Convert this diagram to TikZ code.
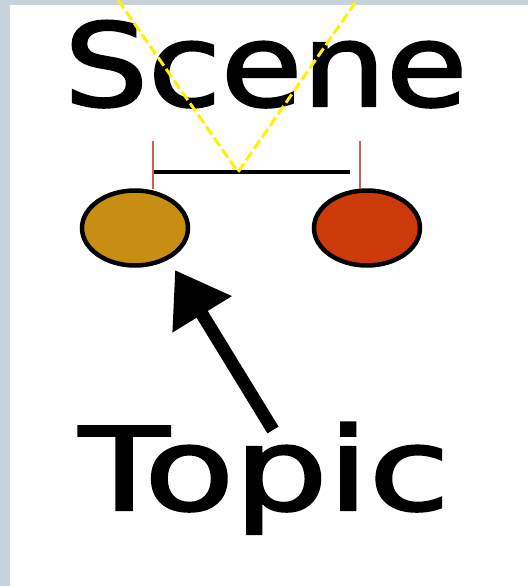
\documentclass[tikz,border=0pt]{standalone}
\usepackage{fontspec}
\setmainfont{DejaVu Sans}[FakeBold=2]
\usetikzlibrary{arrows.meta,shapes.geometric}
\definecolor{frame}{HTML}{C8D2DA}
\definecolor{gold}{HTML}{C88E12}
\definecolor{rust}{HTML}{CC3A0A}
\definecolor{tick}{HTML}{D06050}
\tikzset{
  bigtext/.style={inner sep=0pt, anchor=base west, font=\fontsize{115}{120}\selectfont},
  blob/.style={ellipse, draw=black, line width=4.5pt, minimum width=106pt, minimum height=75pt, inner sep=0pt},
  ticks/.style={draw=tick, line width=2.5pt},
  bar/.style={draw=black, line width=3.5pt},
  guide/.style={draw=yellow, line width=3pt, dash pattern=on 10pt off 4pt},
  pointer/.style={line width=13pt, -{Triangle[length=52pt,width=66pt]}}
}
\begin{document}
\begin{tikzpicture}[x=1pt,y=-1pt]
\useasboundingbox (0,0) rectangle (528,586);
\fill[frame] (0,0) rectangle (528,586);
\fill[white] (10,5) rectangle (528,586);
% text
\node[bigtext] (scene) at (64,106) {\scalebox{1.15}[1]{Scene}};
\node[bigtext] (topic) at (79,510) {\scalebox{1.28}[1]{Topic}};
% ellipses
\node[blob, fill=gold] (lb) at (135,228) {};
\node[blob, fill=rust] (rb) at (367,228) {};
% ticks and bar
\coordinate (lt) at (153,141);
\coordinate (lbt) at (153,189);
\coordinate (rt) at (360,141);
\coordinate (rbt) at (360,189);
\draw[ticks] (lt) -- (lbt);
\draw[ticks] (rt) -- (rbt);
\coordinate (bl) at (154,172);
\coordinate (br) at (350,172);
\coordinate (v) at (238,172);
\draw[bar] (bl) -- (br);
% guides
\coordinate (gl) at (118,0);
\coordinate (gr) at (357,0);
\draw[guide] (gl) -- (v) -- (gr);
% arrow
\coordinate (tail) at (273,430);
\coordinate (tip) at (175,270);
\draw[pointer] (tail) -- (tip);
\end{tikzpicture}
\end{document}
